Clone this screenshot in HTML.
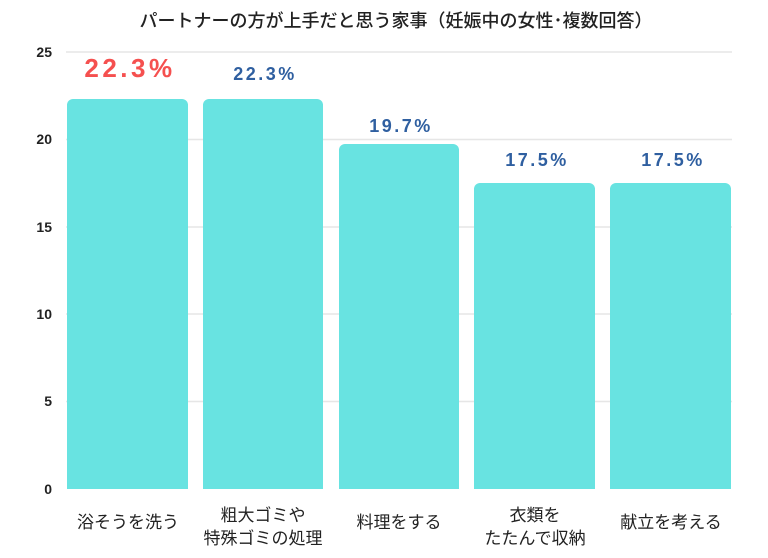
<!DOCTYPE html>
<html><head><meta charset="utf-8"><style>
body{margin:0;background:#fff;}
svg{display:block;font-family:"Liberation Sans","Noto Sans CJK JP",sans-serif;}
</style></head><body>
<svg width="768" height="558" viewBox="0 0 768 558">
<text x="396" y="27" font-size="18" text-anchor="middle" fill="#222" font-weight="500">パートナーの方が上手だと思う家事（妊娠中の女性･複数回答）</text>
<g stroke="#e6e6e6" stroke-width="1.5">
<line x1="66" x2="732" y1="52" y2="52"/><line x1="66" x2="732" y1="139.5" y2="139.5"/>
<line x1="66" x2="732" y1="227" y2="227"/><line x1="66" x2="732" y1="314" y2="314"/>
<line x1="66" x2="732" y1="401.5" y2="401.5"/>
</g>
<g font-size="14" font-weight="bold" fill="#222" text-anchor="end">
<text x="52" y="57">25</text><text x="52" y="144">20</text><text x="52" y="232">15</text>
<text x="52" y="319">10</text><text x="52" y="406">5</text><text x="52" y="494">0</text>
</g>
<g fill="#68e3e1">
<path d="M67,489V105a6,6 0 0 1 6,-6H182a6,6 0 0 1 6,6V489Z"/>
<path d="M203,489V105a6,6 0 0 1 6,-6H317a6,6 0 0 1 6,6V489Z"/>
<path d="M339,489V150a6,6 0 0 1 6,-6H453a6,6 0 0 1 6,6V489Z"/>
<path d="M474,489V189a6,6 0 0 1 6,-6H589a6,6 0 0 1 6,6V489Z"/>
<path d="M610,489V189a6,6 0 0 1 6,-6H725a6,6 0 0 1 6,6V489Z"/>
</g>
<text x="130" y="77" font-size="26" font-weight="bold" fill="#f5504f" text-anchor="middle" letter-spacing="3.5">22.3%</text>
<g font-size="18" font-weight="bold" fill="#2f5fa0" text-anchor="middle" letter-spacing="2.5">
<text x="265" y="80">22.3%</text><text x="401" y="132">19.7%</text>
<text x="537" y="166">17.5%</text><text x="673" y="166">17.5%</text>
</g>
<g font-size="17" fill="#222" text-anchor="middle">
<text x="128" y="528">浴そうを洗う</text>
<text x="263" y="521">粗大ゴミや</text><text x="263" y="544">特殊ゴミの処理</text>
<text x="399" y="528">料理をする</text>
<text x="535" y="521">衣類を</text><text x="535" y="544">たたんで収納</text>
<text x="671" y="528">献立を考える</text>
</g>
</svg>
</body></html>
